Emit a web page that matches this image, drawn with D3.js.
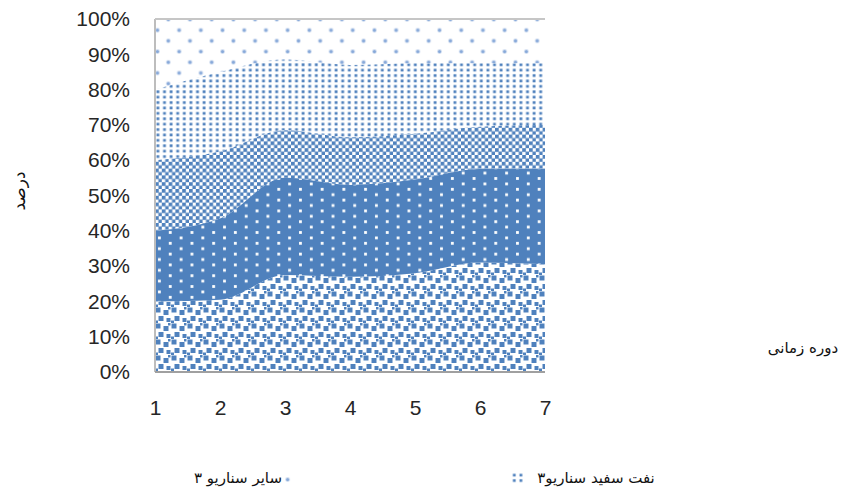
<!DOCTYPE html>
<html>
<head>
<meta charset="utf-8">
<script src="https://cdn.jsdelivr.net/npm/d3@7/dist/d3.min.js"></script>
<style>
  html, body { margin: 0; padding: 0; background: #fff; }
  svg { display: block; }
</style>
</head>
<body>
<svg id="chart" width="856" height="501"></svg>
<script>
// Periods on the x axis
const periods = [1, 2, 3, 4, 5, 6, 7];

// Share of each scenario component per period (percent), bottom to top
const series1 = [20, 20.5, 27.5, 27, 28, 31, 30.5];
const series2 = [20, 23, 27.5, 26, 26.5, 26.5, 27];
const series3 = [20, 19, 13.5, 13.5, 13, 12, 12.5];
const series4 = [20, 22.5, 20, 20.5, 20, 18, 17.5];
const series5 = [20, 15, 11.5, 13, 12.5, 12.5, 12.5];

const seriesKeys = ["s1", "s2", "s3", "s4", "s5"];
const seriesValues = [series1, series2, series3, series4, series5];

// Tick labels
const yTicks = [0, 10, 20, 30, 40, 50, 60, 70, 80, 90, 100];
const xTicks = [1, 2, 3, 4, 5, 6, 7];

// Legend entries (series key, label)
const legendKeys = ["s5", "s4"];
const legendLabels = ["سایر سناریو ۳", "نفت سفید  سناریو۳"];

const yTitle = "درصد";
const xTitle = "دوره زمانی";

// ---------------------------------------------------------------
const svg = d3.select("#chart");
const m = { left: 155, top: 19, right: 545, bottom: 372 };
const blue = "#4f81bd";
const faFont = "'DejaVu Sans', sans-serif";

const rows = periods.map((p, i) => {
  const r = { period: p };
  seriesKeys.forEach((k, j) => r[k] = seriesValues[j][i]);
  return r;
});
const stacked = d3.stack().keys(seriesKeys)(rows);

const x = d3.scaleLinear().domain([1, 7]).range([m.left, m.right]);
const y = d3.scaleLinear().domain([0, 100]).range([m.bottom, m.top]);

// ---- fill patterns ----
const defs = svg.append("defs");

function pattern(id, w, h) {
  return defs.append("pattern").attr("id", id)
    .attr("patternUnits", "userSpaceOnUse")
    .attr("x", m.left).attr("y", m.top)
    .attr("width", w).attr("height", h);
}

// large confetti
{
  const p = pattern("pat-s1", 16, 16);
  [[0.5, 0.5, 5], [8.5, 3, 5], [3.5, 9, 5], [11.5, 11, 4], [0, 13.5, 3], [13, 0, 2.5]]
    .forEach(([a, b, s]) => p.append("rect").attr("x", a).attr("y", b)
      .attr("width", s).attr("height", s).attr("fill", blue));
}
// solid with small white squares
{
  const p = pattern("pat-s2", 21.7, 10.8);
  p.append("rect").attr("width", 21.7).attr("height", 10.8).attr("fill", blue);
  [[3, 1.5], [13.85, 6.9]].forEach(([a, b]) =>
    p.append("rect").attr("x", a).attr("y", b).attr("width", 2.8).attr("height", 2.8).attr("fill", "#fff"));
}
// checkerboard
{
  const p = pattern("pat-s3", 6.8, 6.8);
  [[0, 0], [3.4, 3.4]].forEach(([a, b]) =>
    p.append("rect").attr("x", a).attr("y", b).attr("width", 3.7).attr("height", 3.7).attr("fill", blue));
}
// small dotted grid
{
  const p = pattern("pat-s4", 6.6, 5.4);
  p.append("rect").attr("x", 1.5).attr("y", 1.2).attr("width", 2.8).attr("height", 2.7).attr("fill", blue);
}
// sparse light dots
{
  const p = pattern("pat-s5", 21.7, 21.4);
  [[13.3, 0.5], [2.45, 11.2], [13.3, 21.9], [-8.4, 0.5], [24.15, 11.2]].forEach(([a, b]) => {
    p.append("circle").attr("cx", a).attr("cy", b).attr("r", 2.4).attr("fill", "#cfdcef");
    p.append("circle").attr("cx", a).attr("cy", b).attr("r", 1.5).attr("fill", "#86a8d9");
  });
}

// ---- areas ----
const area = d3.area()
  .x(d => x(d.data.period))
  .y0(d => y(d[0]))
  .y1(d => y(d[1]))
  .curve(d3.curveMonotoneX);

svg.append("g").selectAll("path")
  .data(stacked)
  .join("path")
  .attr("d", area)
  .attr("fill", d => `url(#pat-${d.key})`);

// ---- frame ----
svg.append("line").attr("x1", m.left).attr("x2", m.left)
  .attr("y1", m.top).attr("y2", m.bottom)
  .attr("stroke", "#bdbdbd").attr("stroke-width", 2);
svg.append("line").attr("x1", m.left).attr("x2", m.right)
  .attr("y1", m.top).attr("y2", m.top)
  .attr("stroke", "#c6c6c6").attr("stroke-width", 2);
svg.append("line").attr("x1", m.left).attr("x2", m.right)
  .attr("y1", m.bottom).attr("y2", m.bottom)
  .attr("stroke", "#a0a0a0").attr("stroke-width", 2);

// ---- axes ----
const tickFont = "'Liberation Sans', Arial, sans-serif";

const yAxis = d3.axisLeft(y).tickValues(yTicks).tickFormat(d => d + "%").tickSize(0).tickPadding(25);
const gy = svg.append("g").attr("transform", `translate(${m.left},0)`).call(yAxis);
gy.select(".domain").remove();
gy.selectAll("text").attr("font-family", tickFont).attr("font-size", 21).attr("fill", "#262626");

const xAxis = d3.axisBottom(x).tickValues(xTicks).tickFormat(d3.format("d")).tickSize(0).tickPadding(28);
const gx = svg.append("g").attr("transform", `translate(0,${m.bottom})`).call(xAxis);
gx.select(".domain").remove();
gx.selectAll("text").attr("font-family", tickFont).attr("font-size", 21).attr("fill", "#262626");

// ---- titles ----
svg.append("text")
  .attr("transform", "translate(25,191) rotate(-90)")
  .attr("text-anchor", "middle")
  .attr("font-family", faFont).attr("font-size", 17).attr("fill", "#111")
  .text(yTitle);

svg.append("text")
  .attr("x", 803).attr("y", 353)
  .attr("text-anchor", "middle")
  .attr("font-family", faFont).attr("font-size", 15).attr("fill", "#111")
  .text(xTitle);

// ---- legend ----
const legendPos = [{ tx: 238, sx: 283 }, { tx: 596, sx: 512 }];
legendKeys.forEach((k, i) => {
  const pos = legendPos[i];
  svg.append("rect").attr("x", pos.sx).attr("y", 472).attr("width", 11).attr("height", 11)
    .attr("fill", `url(#pat-${k})`);
  svg.append("text")
    .attr("x", pos.tx).attr("y", 483)
    .attr("text-anchor", "middle")
    .attr("font-family", faFont).attr("font-size", 15).attr("fill", "#111")
    .text(legendLabels[i]);
});
</script>
</body>
</html>
